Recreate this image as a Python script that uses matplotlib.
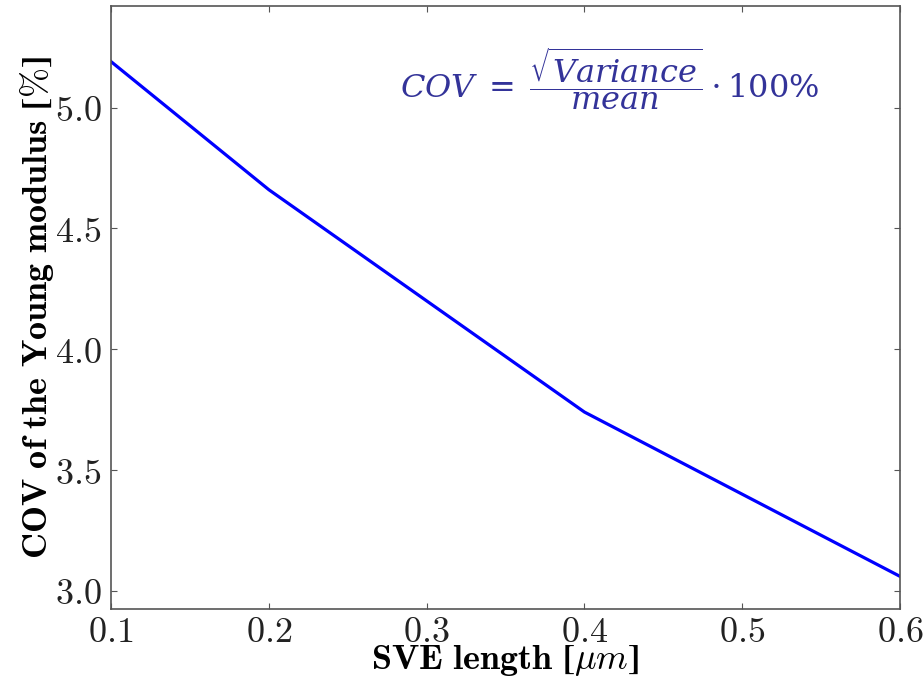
import matplotlib
matplotlib.use("Agg")
import matplotlib.pyplot as plt
from matplotlib.ticker import FuncFormatter

# data
sve_length = [0.1, 0.2, 0.4, 0.6]
cov_young = [5.19, 4.66, 3.74, 3.06]
x_ticks = [0.1, 0.2, 0.3, 0.4, 0.5, 0.6]
y_ticks = [3.0, 3.5, 4.0, 4.5, 5.0]

plt.rcParams['mathtext.fontset'] = 'cm'
plt.rcParams['font.family'] = ['DejaVu Serif']

fig = plt.figure(figsize=(9.24, 6.8), dpi=100)
ax = fig.add_axes([111/924, 71/680, (900-111)/924, (609-6)/680])

ax.plot(sve_length, cov_young, color='#0000ff', linewidth=2.3)

ax.set_xlim(0.1, 0.6)
ax.set_ylim(2.925, 5.42)
ax.set_xticks(x_ticks)
ax.set_yticks(y_ticks)
fmt = FuncFormatter(lambda v, p: r'$%.1f$' % v)
ax.xaxis.set_major_formatter(fmt)
ax.yaxis.set_major_formatter(fmt)

for s in ax.spines.values():
    s.set_color('#555555')
    s.set_linewidth(1.2)
ax.tick_params(direction='in', top=True, right=True, length=4, width=0.8,
               color='#555555', labelsize=26, labelcolor='#222222')
ax.tick_params(axis='x', pad=4)
ax.tick_params(axis='y', pad=7)

ax.set_xlabel(r'$\mathbf{SVE\ length}\ \mathbf{\lbrack}\mu m\mathbf{\rbrack}$',
              fontsize=26, labelpad=-4)
ax.set_ylabel(r'$\mathbf{COV\ of\ the\ Young\ modulus\ \lbrack\%\rbrack}$', fontsize=26)
ax.yaxis.set_label_coords(-0.07, 0.5)

ax.text(0.632, 0.88, r'$COV\;=\;\dfrac{\sqrt{Variance}}{mean}\cdot\mathrm{100\%}$',
        transform=ax.transAxes, ha='center', va='center', fontsize=23,
        color='#333399', math_fontfamily='dejavuserif')

fig.savefig('out.png', dpi=100)
